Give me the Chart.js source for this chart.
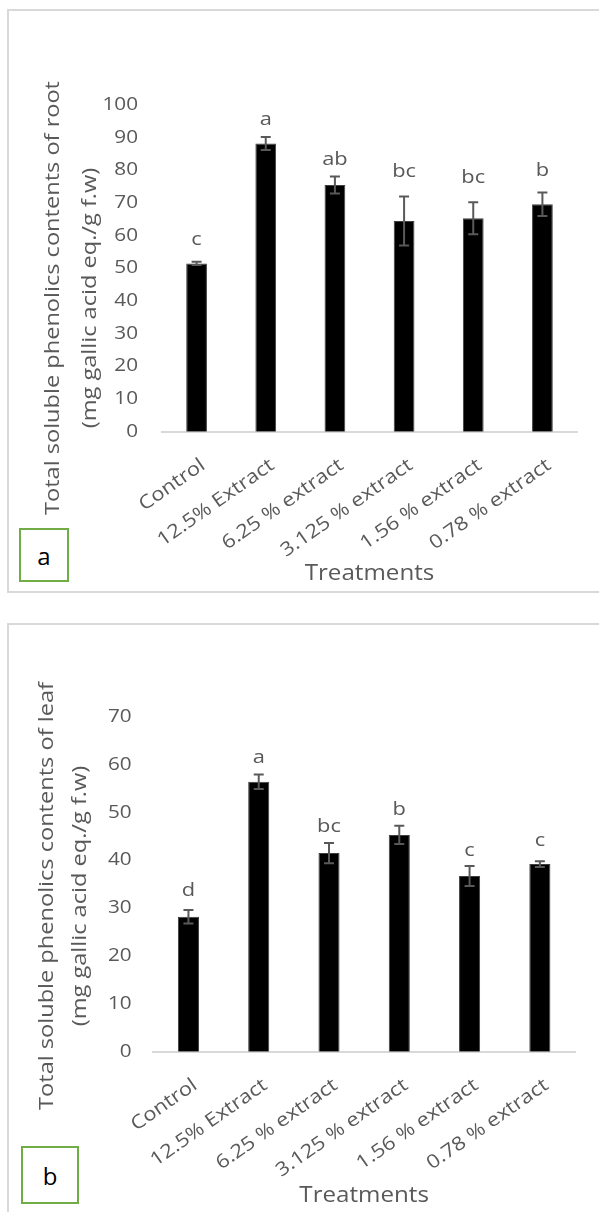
<!DOCTYPE html>
<html>
<head>
<meta charset="utf-8">
<script src="https://cdn.jsdelivr.net/npm/chart.js@4.4.1/dist/chart.umd.min.js"></script>
<style>
  html, body { margin: 0; padding: 0; background: #fff; }
  body { width: 599px; height: 1212px; position: relative; overflow: hidden; font-family: 'Open Sans', sans-serif; }
  canvas { position: absolute; left: 0; }
  .panel { position: absolute; left: 7px; width: 610px; border: 2px solid #d9d9d9; box-sizing: border-box; }
  #panelA { top: 9px; height: 584px; }
  #panelB { top: 623px; height: 610px; }
  .tag { position: absolute; border: 2px solid #70ad47; box-sizing: border-box; background: #fff;
         display: flex; align-items: center; justify-content: center; font-size: 24px; color: #000; }
  #tagA { left: 19px; top: 528px; width: 50px; height: 54px; }
  #tagB { left: 21px; top: 1146px; width: 58px; height: 58px; }
</style>
</head>
<body>
<canvas id="chartA" width="599" height="606" style="top:0"></canvas>
<canvas id="chartB" width="599" height="606" style="top:606px"></canvas>
<div class="panel" id="panelA"></div>
<div class="panel" id="panelB"></div>
<div class="tag" id="tagA">a</div>
<div class="tag" id="tagB">b</div>
<script>
// Tratamentos (eixo x)
const categories = ['Control', '12.5% Extract', '6.25 % extract', '3.125 % extract', '1.56 % extract', '0.78 % extract'];

// Raiz (painel a)
const rootMeans = [51.5, 88.2, 75.5, 64.5, 65.3, 69.6];
const rootErrors = [0.5, 2.0, 2.6, 7.5, 4.9, 3.6];
const rootLetters = ['c', 'a', 'ab', 'bc', 'bc', 'b'];
const rootLetterAt = [58.7, 95.4, 83.2, 79.6, 77.7, 79.9];
const rootMax = 100;

// Folha (painel b)
const leafMeans = [28.2, 56.4, 41.5, 45.3, 36.7, 39.2];
const leafErrors = [1.4, 1.5, 2.1, 1.9, 2.1, 0.6];
const leafLetters = ['d', 'a', 'bc', 'b', 'c', 'c'];
const leafLetterAt = [33.6, 61.5, 47.0, 50.6, 42.0, 44.2];
const leafMax = 70;

const GREY = '#595959';
const STRETCH = 1.15;   // a fonte original é mais larga que a Open Sans
const ROT = 35 * Math.PI / 180;

Chart.defaults.font.family = "'Open Sans', sans-serif";
Chart.defaults.color = GREY;

// texto com alargamento horizontal (na direção do texto)
function drawText(ctx, txt, x, y, angle, size, align, baseline, dy) {
    ctx.save();
    ctx.translate(x, y);
    ctx.rotate(angle);
    ctx.scale(STRETCH, 1);
    ctx.font = size + "px 'Open Sans'";
    ctx.textAlign = align;
    ctx.textBaseline = baseline;
    ctx.fillText(txt, 0, dy || 0);
    ctx.restore();
}

// Barras de erro + letras de significância
const errorBars = {
    id: 'errorBars',
    afterDatasetsDraw(chart, args, opts) {
        const ctx = chart.ctx;
        const y = chart.scales.y;
        const meta = chart.getDatasetMeta(0);
        const values = chart.data.datasets[0].data;
        ctx.save();
        ctx.strokeStyle = GREY;
        ctx.lineWidth = 2;
        meta.data.forEach((bar, i) => {
            const top = y.getPixelForValue(values[i] + opts.errors[i]);
            const bot = y.getPixelForValue(values[i] - opts.errors[i]);
            ctx.beginPath();
            ctx.moveTo(bar.x, top); ctx.lineTo(bar.x, bot);
            ctx.moveTo(bar.x - 5, top); ctx.lineTo(bar.x + 5, top);
            ctx.moveTo(bar.x - 5, bot); ctx.lineTo(bar.x + 5, bot);
            ctx.stroke();
        });
        ctx.fillStyle = GREY;
        meta.data.forEach((bar, i) => {
            drawText(ctx, opts.letters[i], bar.x, y.getPixelForValue(opts.letterAt[i]), 0, 19, 'center', 'middle');
        });
        ctx.restore();
    }
};

// Rótulos dos eixos e títulos
const axisText = {
    id: 'axisText',
    afterDraw(chart, args, opts) {
        const ctx = chart.ctx;
        const area = chart.chartArea;
        const x = chart.scales.x;
        const y = chart.scales.y;
        ctx.save();
        ctx.fillStyle = GREY;
        // ticks do eixo y
        y.ticks.forEach(t => {
            drawText(ctx, String(t.value), area.left - opts.tickPad, y.getPixelForValue(t.value), 0, 18, 'right', 'middle');
        });
        // rótulos inclinados do eixo x (fim do texto junto da barra)
        categories.forEach((c, i) => {
            drawText(ctx, c, x.getPixelForTick(i) + 2, area.bottom + 25, -ROT, 19, 'right', 'alphabetic', 13.5);
        });
        // título do eixo y (duas linhas)
        opts.yLines.forEach((txt, k) => {
            drawText(ctx, txt, opts.yBase[k], opts.yCenter, -Math.PI / 2, 20.5, 'center', 'alphabetic');
        });
        drawText(ctx, 'Treatments', (area.left + area.right) / 2, opts.xBase, 0, 21, 'center', 'alphabetic');
        ctx.restore();
    }
};

function makeChart(id, means, errors, letters, letterAt, yMax, lay) {
    const ctx = document.getElementById(id).getContext('2d');
    return new Chart(ctx, {
        type: 'bar',
        data: {
            labels: categories,
            datasets: [{
                data: means,
                backgroundColor: '#000000',
                borderColor: '#3f3f3f',
                borderWidth: 1,
                barPercentage: 0.3,
                categoryPercentage: 1.0
            }]
        },
        options: {
            responsive: false,
            animation: false,
            layout: { padding: { top: lay.top, right: lay.right, left: 0, bottom: 0 } },
            plugins: {
                legend: { display: false },
                tooltip: { enabled: false },
                errorBars: { errors: errors, letters: letters, letterAt: letterAt },
                axisText: lay.text
            },
            scales: {
                x: {
                    grid: { display: false, drawTicks: false },
                    border: { display: true, color: '#d9d9d9', width: 2 },
                    ticks: { display: false, autoSkip: false },
                    afterFit(scale) { scale.height = lay.xHeight; }
                },
                y: {
                    min: 0, max: yMax,
                    grid: { display: false, drawTicks: false },
                    border: { display: false },
                    ticks: { display: false, stepSize: 10 },
                    afterFit(scale) { scale.width = lay.yWidth; }
                }
            }
        },
        plugins: [errorBars, axisText]
    });
}

makeChart('chartA', rootMeans, rootErrors, rootLetters, rootLetterAt, rootMax, {
    top: 105, right: 22, yWidth: 162, xHeight: 174.3,
    text: {
        tickPad: 24,
        yLines: ['Total soluble phenolics contents of root', '(mg gallic acid eq./g f.w)'],
        yBase: [59, 96], yCenter: 298, xBase: 580
    }
});

makeChart('chartB', leafMeans, leafErrors, leafLetters, leafLetterAt, leafMax, {
    top: 110.7, right: 24, yWidth: 153.3, xHeight: 160.3,
    text: {
        tickPad: 21.6,
        yLines: ['Total soluble phenolics contents of leaf', '(mg gallic acid eq./g f.w)'],
        yBase: [53, 86], yCenter: 290, xBase: 595.5
    }
});
</script>
</body>
</html>
